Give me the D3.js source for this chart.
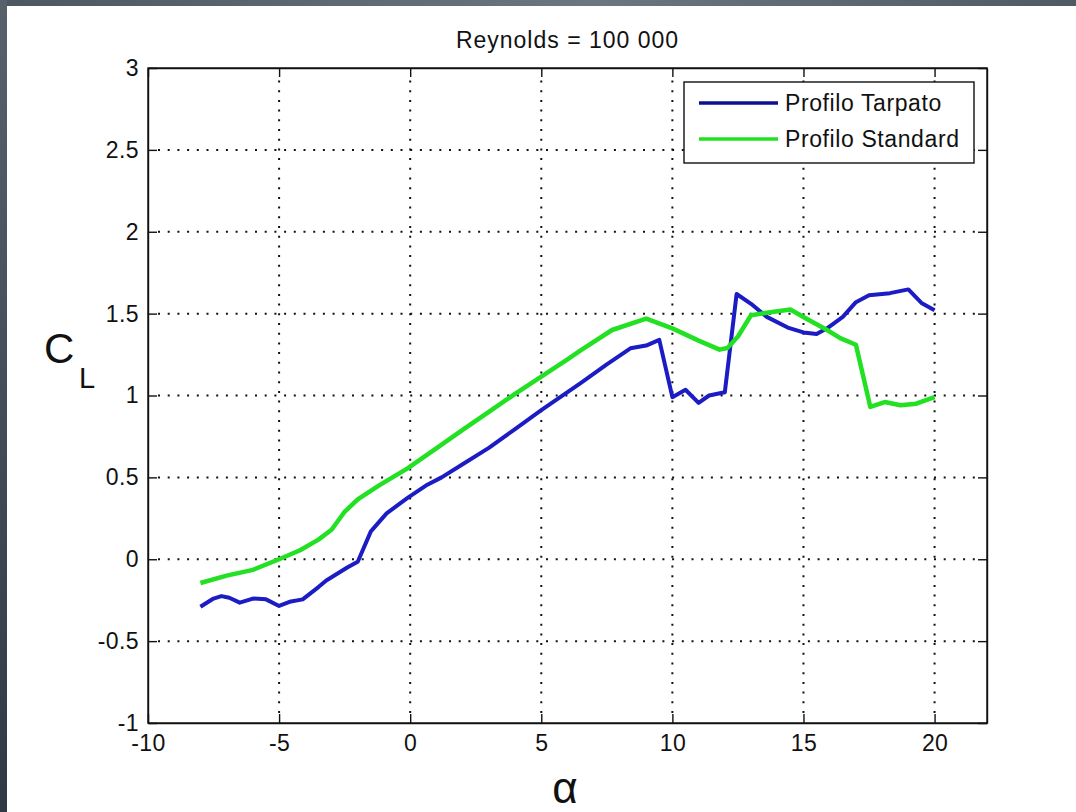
<!DOCTYPE html>
<html>
<head>
<meta charset="utf-8">
<script src="https://cdn.jsdelivr.net/npm/d3@7/dist/d3.min.js"></script>
<style>
  html, body { margin: 0; padding: 0; background: #fff; }
  svg { display: block; }
  text { font-family: "Liberation Sans", Arial, Helvetica, sans-serif; fill: #111; }
</style>
</head>
<body>
<svg id="chart" width="1076" height="812"></svg>
<script>
// ---------- DATA ----------
const title = "Reynolds = 100 000";
const seriesNames = ["Profilo Tarpato", "Profilo Standard"];
const seriesColors = ["#1c1cc4", "#22e022"];
const legendColors = ["#10108e", "#22e022"];

const alphaTarpato = [-8, -7.5, -7.2, -6.9, -6.5, -6, -5.5, -5, -4.6, -4.1, -3.5, -3.2, -2.4, -2, -1.5, -0.9, -0.1, 0.6, 1.2, 2, 3, 4, 5, 6, 6.5, 7.5, 8.4, 9, 9.5, 10, 10.5, 11, 11.4, 12, 12.45, 13, 13.6, 14.4, 15, 15.5, 15.9, 16.5, 17, 17.5, 18.3, 19, 19.5, 20];
const clTarpato    = [-0.29, -0.24, -0.225, -0.235, -0.265, -0.24, -0.245, -0.285, -0.26, -0.245, -0.17, -0.13, -0.05, -0.015, 0.17, 0.28, 0.375, 0.45, 0.5, 0.58, 0.68, 0.795, 0.91, 1.02, 1.075, 1.19, 1.288, 1.305, 1.34, 0.99, 1.035, 0.955, 1.0, 1.02, 1.62, 1.56, 1.48, 1.415, 1.385, 1.375, 1.41, 1.48, 1.57, 1.612, 1.625, 1.648, 1.565, 1.52];

const alphaStandard = [-8, -7, -6, -5, -4.2, -3.5, -3, -2.5, -2, -1.2, -0.1, 1.2, 2, 3, 4, 5, 6, 6.5, 7.7, 9, 10, 11, 11.8, 12.1, 12.5, 13, 13.6, 14.5, 15.1, 15.9, 16.4, 17, 17.55, 18.1, 18.7, 19.3, 20];
const clStandard    = [-0.145, -0.1, -0.065, 0.0, 0.055, 0.12, 0.18, 0.29, 0.365, 0.45, 0.555, 0.7, 0.79, 0.9, 1.01, 1.115, 1.22, 1.275, 1.4, 1.47, 1.41, 1.335, 1.28, 1.29, 1.36, 1.49, 1.505, 1.525, 1.47, 1.4, 1.35, 1.31, 0.93, 0.96, 0.94, 0.95, 0.99];

const xTicks = [-10, -5, 0, 5, 10, 15, 20];
const yTicks = [-1, -0.5, 0, 0.5, 1, 1.5, 2, 2.5, 3];
const xDomain = [-10, 22];
const yDomain = [-1, 3];

// ---------- LAYOUT ----------
const W = 1076, H = 812;
const plot = { left: 148, top: 68, right: 987, bottom: 723 };
const svg = d3.select("#chart");

// background frame (dark edges of the slide)
const defs = svg.append("defs");
const gTop = defs.append("linearGradient").attr("id", "gTop").attr("x1", "0").attr("x2", "1");
gTop.append("stop").attr("offset", "0").attr("stop-color", "#4c5762");
gTop.append("stop").attr("offset", "0.55").attr("stop-color", "#6b7681");
gTop.append("stop").attr("offset", "1").attr("stop-color", "#4f5a65");
const gLeft = defs.append("linearGradient").attr("id", "gLeft").attr("x1", "0").attr("x2", "0").attr("y1", "0").attr("y2", "1");
gLeft.append("stop").attr("offset", "0").attr("stop-color", "#56616c");
gLeft.append("stop").attr("offset", "1").attr("stop-color", "#2e3943");

svg.append("rect").attr("x", 0).attr("y", 0).attr("width", W).attr("height", H).attr("fill", "#ffffff");
svg.append("rect").attr("x", 0).attr("y", 0).attr("width", W).attr("height", 6).attr("fill", "url(#gTop)");
svg.append("rect").attr("x", 0).attr("y", 0).attr("width", 7).attr("height", H).attr("fill", "url(#gLeft)");

const x = d3.scaleLinear().domain(xDomain).range([plot.left, plot.right]);
const y = d3.scaleLinear().domain(yDomain).range([plot.bottom, plot.top]);

// grid (dotted)
const grid = svg.append("g");
grid.selectAll("line.gx").data(xTicks.filter(v => v > xDomain[0] && v < xDomain[1]))
  .join("line").attr("class", "gx")
  .attr("x1", d => x(d)).attr("x2", d => x(d))
  .attr("y1", plot.bottom - 10).attr("y2", plot.top + 10)
  .attr("stroke", "#111").attr("stroke-width", 2)
  .attr("stroke-dasharray", "2,7.7");
grid.selectAll("line.gy").data(yTicks.filter(v => v > yDomain[0] && v < yDomain[1]))
  .join("line").attr("class", "gy")
  .attr("y1", d => y(d)).attr("y2", d => y(d))
  .attr("x1", plot.left + 10).attr("x2", plot.right - 10)
  .attr("stroke", "#111").attr("stroke-width", 2)
  .attr("stroke-dasharray", "2,7.7");

// series
const line = d3.line().x(d => x(d[0])).y(d => y(d[1]));
const dataT = alphaTarpato.map((a, i) => [a, clTarpato[i]]);
const dataS = alphaStandard.map((a, i) => [a, clStandard[i]]);

svg.append("path").datum(dataT).attr("d", line)
  .attr("fill", "none").attr("stroke", seriesColors[0]).attr("stroke-width", 4)
  .attr("stroke-linejoin", "round");
svg.append("path").datum(dataS).attr("d", line)
  .attr("fill", "none").attr("stroke", seriesColors[1]).attr("stroke-width", 4.5)
  .attr("stroke-linejoin", "round");

// axes
const tickLen = 9;
const fontSize = 23;
const xAxis = svg.append("g").attr("transform", `translate(0,${plot.bottom})`)
  .call(d3.axisBottom(x).tickValues(xTicks).tickSizeInner(-tickLen).tickSizeOuter(0).tickPadding(12).tickFormat(d => String(d)));
const yAxis = svg.append("g").attr("transform", `translate(${plot.left},0)`)
  .call(d3.axisLeft(y).tickValues(yTicks).tickSizeInner(-tickLen).tickSizeOuter(0).tickPadding(9).tickFormat(d => String(d)));
const xTop = svg.append("g").attr("transform", `translate(0,${plot.top})`)
  .call(d3.axisTop(x).tickValues(xTicks).tickSizeInner(-tickLen).tickSizeOuter(0).tickFormat(""));
const yRight = svg.append("g").attr("transform", `translate(${plot.right},0)`)
  .call(d3.axisRight(y).tickValues(yTicks).tickSizeInner(-tickLen).tickSizeOuter(0).tickFormat(""));

[xAxis, yAxis, xTop, yRight].forEach(g => {
  g.selectAll("path.domain").attr("stroke", "#111").attr("stroke-width", 1.4);
  g.selectAll(".tick line").attr("stroke", "#111").attr("stroke-width", 1.4);
  g.selectAll("text").attr("font-size", fontSize).attr("fill", "#111")
    .attr("font-family", '"Liberation Sans", Arial, sans-serif')
    .style("letter-spacing", "0.4px");
});

// box edges (closing)
svg.append("rect").attr("x", plot.left).attr("y", plot.top)
  .attr("width", plot.right - plot.left).attr("height", plot.bottom - plot.top)
  .attr("fill", "none").attr("stroke", "#111").attr("stroke-width", 1.4);

// title
svg.append("text").attr("x", (plot.left + plot.right) / 2).attr("y", 48)
  .attr("text-anchor", "middle").attr("font-size", 23).style("letter-spacing", "1px")
  .text(title);

// y label C_L
const yl = svg.append("text").attr("x", 44).attr("y", 363);
yl.append("tspan").attr("font-size", 42).text("C");
yl.append("tspan").attr("font-size", 29).attr("x", 79).attr("y", 388).text("L");

// x label alpha
svg.append("text").attr("x", 565).attr("y", 803).attr("text-anchor", "middle")
  .attr("font-size", 44).attr("font-family", '"Liberation Serif", "DejaVu Serif", serif')
  .text("α");

// legend
const lg = svg.append("g");
lg.append("rect").attr("x", 684).attr("y", 82).attr("width", 290).attr("height", 81)
  .attr("fill", "#fff").attr("stroke", "#111").attr("stroke-width", 1.4);
seriesNames.forEach((name, i) => {
  const yy = 103 + i * 36;
  lg.append("line").attr("x1", 699).attr("x2", 778).attr("y1", yy).attr("y2", yy)
    .attr("stroke", legendColors[i]).attr("stroke-width", 3.5);
  lg.append("text").attr("x", 785).attr("y", yy + 8).attr("font-size", 23)
    .style("letter-spacing", "0.6px").text(name);
});
</script>
</body>
</html>
